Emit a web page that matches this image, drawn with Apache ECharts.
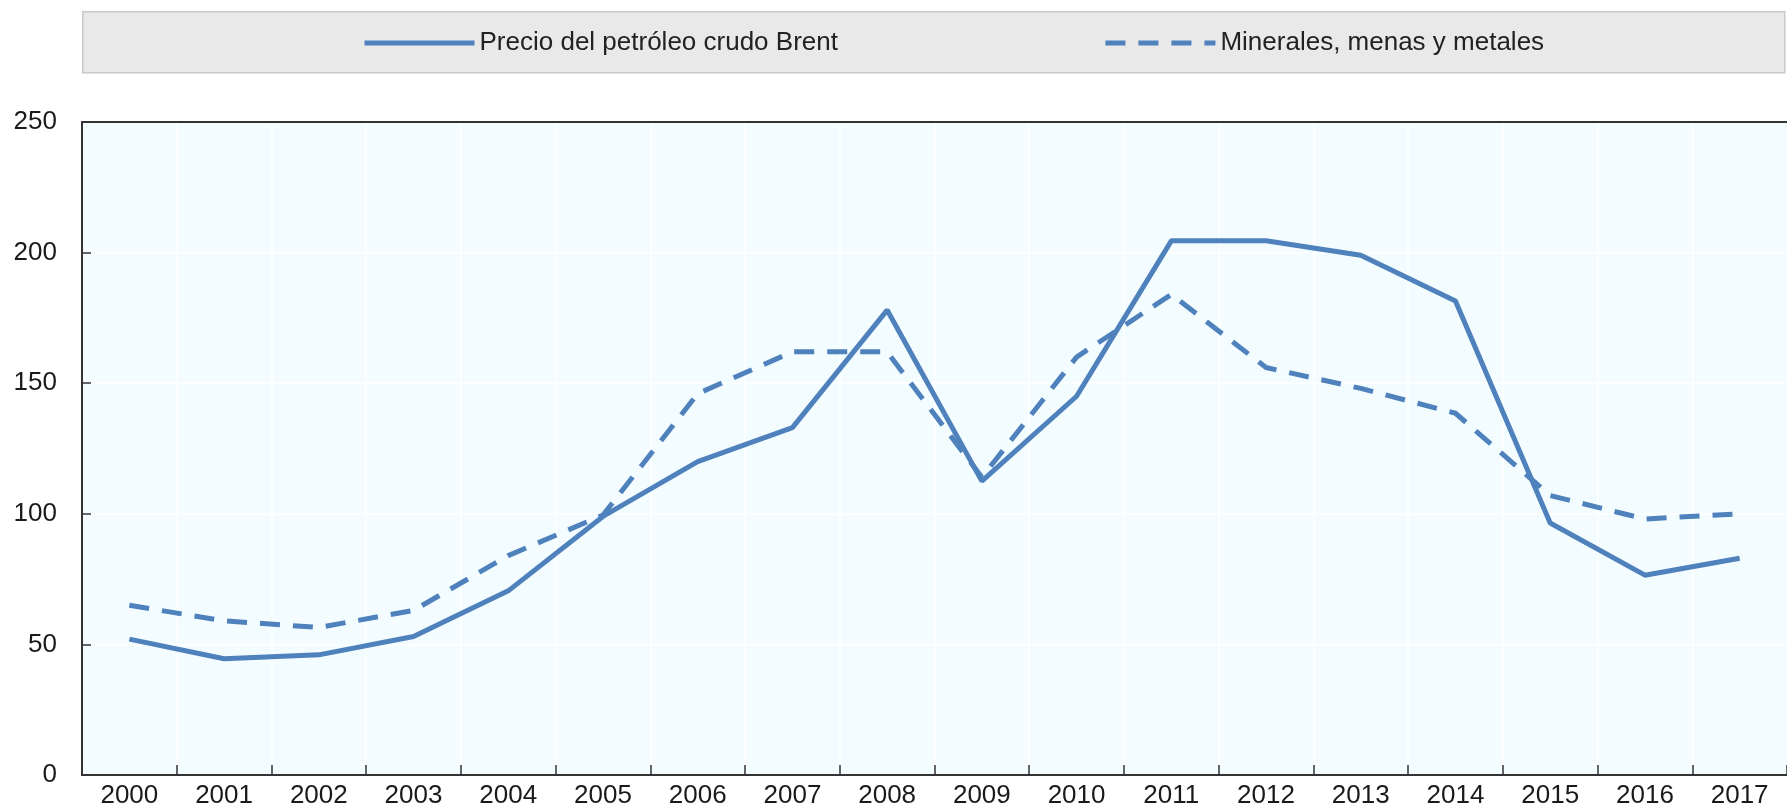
<!DOCTYPE html>
<html>
<head>
<meta charset="utf-8">
<script src="https://cdn.jsdelivr.net/npm/echarts@6/dist/echarts.min.js"></script>
<style>
  html, body { margin: 0; padding: 0; background: #fff; }
  #chart { width: 1787px; height: 812px; }
</style>
</head>
<body>
<div id="chart"></div>
<script>
// Datos
const years = ["2000", "2001", "2002", "2003", "2004", "2005", "2006", "2007", "2008",
  "2009", "2010", "2011", "2012", "2013", "2014", "2015", "2016", "2017"];
const brent = [52, 44.5, 46, 53, 70.5, 99, 120, 133, 178, 112.5, 145, 204.5, 204.5, 199, 181.5, 96.5, 76.5, 83];
const minerales = [65, 59, 56.5, 63, 84, 99.5, 146, 162, 162, 114, 160, 184, 156, 148, 138.5, 107, 98, 100];
const seriesNames = ["Precio del petróleo crudo Brent", "Minerales, menas y metales"];

const FONT = "'Liberation Sans Narrow', 'Arial Narrow', 'Liberation Sans', sans-serif";
const BLUE = "#4f81bd";

const chart = echarts.init(document.getElementById("chart"));

const option = {
  animation: false,
  graphic: [
    {
      type: "rect",
      left: 82,
      top: 11,
      z: -1,
      shape: { width: 1702, height: 61 },
      style: { fill: "#e9e9e9", stroke: "#c9c9c9", lineWidth: 1.5 },
    },
  ],
  legend: {
    data: seriesNames,
    left: 357,
    top: 25,
    itemWidth: 110,
    itemHeight: 28,
    itemGap: 265,
    itemStyle: { opacity: 0 },
    lineStyle: { width: 5 },
    textStyle: { fontFamily: FONT, fontSize: 26, color: "#222" },
  },
  grid: {
    left: 82,
    right: 0,
    top: 122,
    bottom: 37,
    show: true,
    backgroundColor: "#f3fdff",
    borderWidth: 0,
  },
  xAxis: [
    {
      type: "category",
      data: years,
      boundaryGap: true,
      axisLine: { lineStyle: { color: "#333", width: 2 } },
      axisTick: { show: true, inside: true, length: 10, lineStyle: { color: "#333", width: 1.5 } },
      axisLabel: { fontFamily: FONT, fontSize: 26, color: "#1a1a1a", margin: 8 },
      splitLine: { show: true, showMinLine: false, showMaxLine: false, lineStyle: { color: "#ffffff", width: 1.5 } },
    },
    {
      // borde superior del área de trazado
      type: "category",
      data: years,
      position: "top",
      axisLine: { lineStyle: { color: "#333", width: 2 } },
      axisTick: { show: false },
      axisLabel: { show: false },
    },
  ],
  yAxis: {
    type: "value",
    min: 0,
    max: 250,
    interval: 50,
    axisLine: { show: true, lineStyle: { color: "#333", width: 2 } },
    axisTick: { show: true, inside: true, length: 9, lineStyle: { color: "#333", width: 1.5 } },
    axisLabel: { fontFamily: FONT, fontSize: 26, color: "#1a1a1a", margin: 25 },
    splitLine: { show: true, showMinLine: false, showMaxLine: false, lineStyle: { color: "#ffffff", width: 1.5 } },
  },
  series: [
    {
      name: seriesNames[0],
      type: "line",
      data: brent,
      symbol: "none",
      lineStyle: { color: BLUE, width: 5 },
      itemStyle: { color: BLUE },
    },
    {
      name: seriesNames[1],
      type: "line",
      data: minerales,
      symbol: "none",
      lineStyle: { color: BLUE, width: 5, type: [20, 13] },
      itemStyle: { color: BLUE },
    },
  ],
};

chart.setOption(option);
</script>
</body>
</html>
